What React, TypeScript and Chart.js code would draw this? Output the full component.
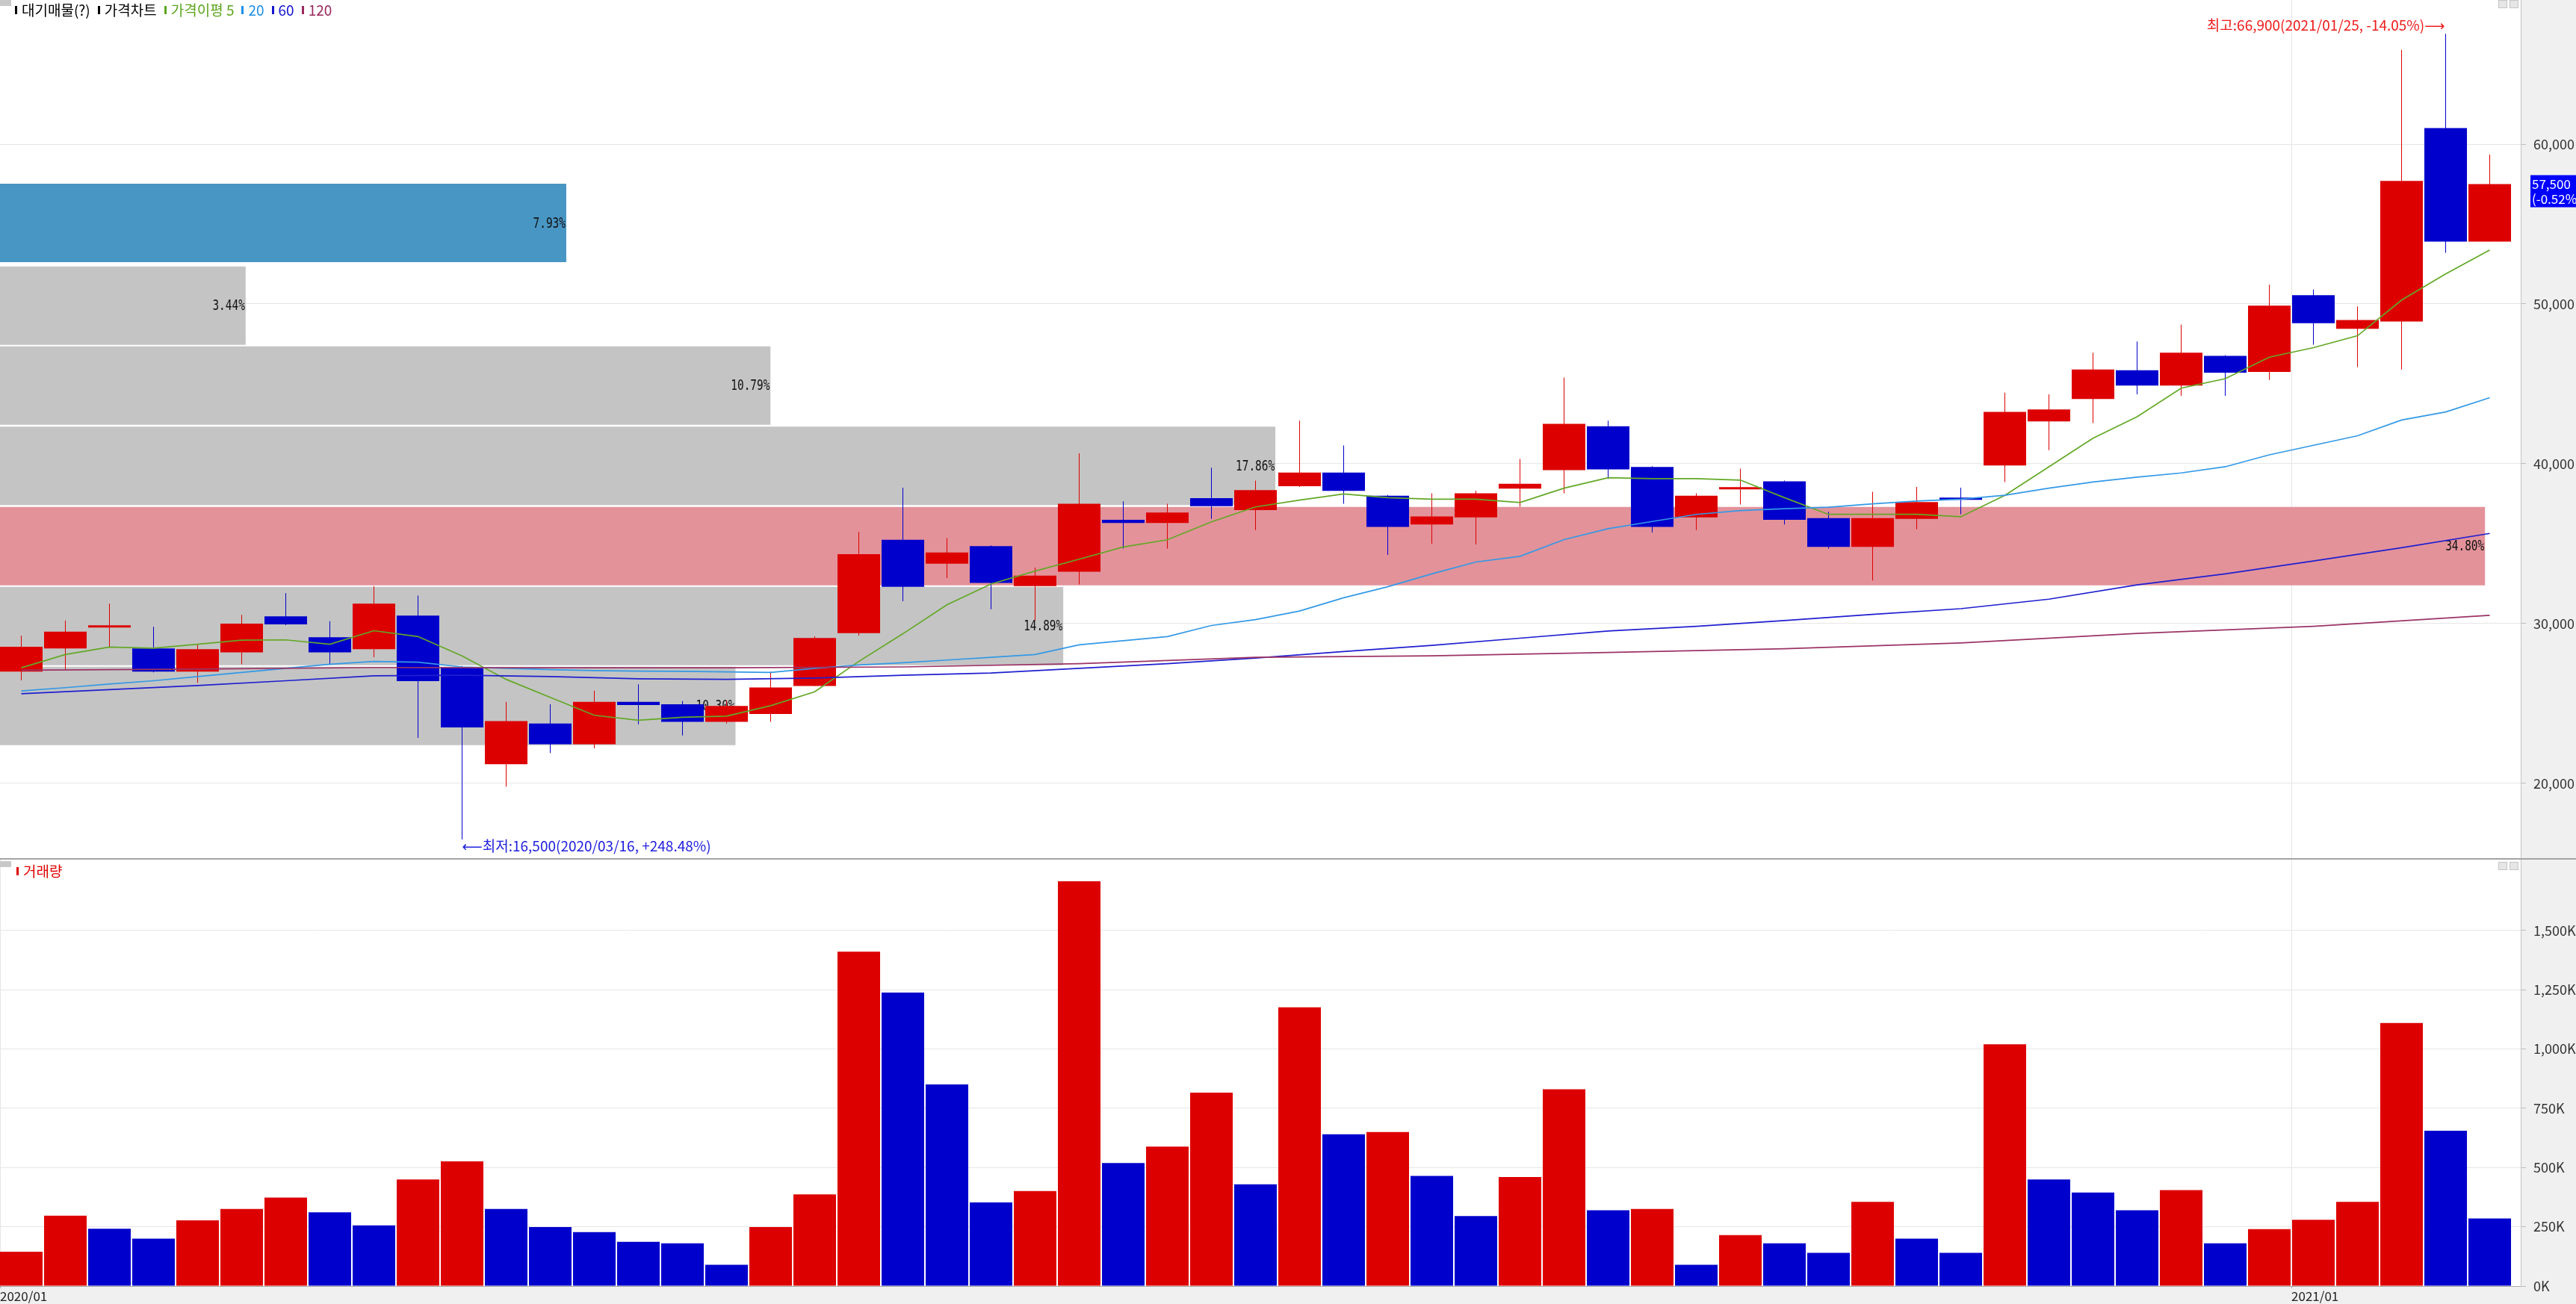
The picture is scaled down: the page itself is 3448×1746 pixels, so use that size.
import React, { useEffect, useRef } from 'react';
import { Chart, registerables } from 'chart.js';

Chart.register(...registerables);

// ---------------- data ----------------
const weeks = [
  '2020/01/06', '2020/01/13', '2020/01/20', '2020/01/27', '2020/02/03', '2020/02/10', '2020/02/17', '2020/02/24',
  '2020/03/02', '2020/03/09', '2020/03/16', '2020/03/23', '2020/03/30', '2020/04/06', '2020/04/13', '2020/04/20',
  '2020/04/27', '2020/05/04', '2020/05/11', '2020/05/18', '2020/05/25', '2020/06/01', '2020/06/08', '2020/06/15',
  '2020/06/22', '2020/06/29', '2020/07/06', '2020/07/13', '2020/07/20', '2020/07/27', '2020/08/03', '2020/08/10',
  '2020/08/17', '2020/08/24', '2020/08/31', '2020/09/07', '2020/09/14', '2020/09/21', '2020/09/28', '2020/10/05',
  '2020/10/12', '2020/10/19', '2020/10/26', '2020/11/02', '2020/11/09', '2020/11/16', '2020/11/23', '2020/11/30',
  '2020/12/07', '2020/12/14', '2020/12/21', '2020/12/28', '2021/01/04', '2021/01/11', '2021/01/18', '2021/01/25',
  '2021/02/01',
];

const opens = [
  27000, 28450, 29750, 28450, 27000, 28200, 30450, 29150, 28400, 30500, 27250, 21200, 23750, 22450, 25100, 24950,
  23850, 24350, 26100, 29400, 35250, 33750, 34850, 32350, 33250, 36500, 36300, 37850, 37100, 38600, 39450, 38000,
  36200, 36650, 38450, 39600, 42350, 39800, 36650, 38400, 38900, 36600, 34800, 36550, 37850, 39900, 42650, 44050,
  45850, 44900, 46750, 45750, 50550, 48450, 48900, 61000, 53900,
];
const highs = [
  29250, 30200, 31250, 29800, 28700, 30550, 31900, 30150, 32350, 31750, 27350, 25100, 24950, 25800, 26200, 25150,
  25200, 27000, 29200, 35750, 38500, 35350, 34900, 33500, 40650, 37650, 37500, 39750, 38950, 42700, 41150, 38050,
  38150, 38300, 40300, 45400, 42700, 39850, 38150, 39700, 38950, 37000, 38250, 38550, 38500, 44450, 44350, 46950,
  47650, 48700, 46800, 51200, 50900, 49850, 65900, 66900, 59350,
];
const lows = [
  26450, 27100, 28500, 26950, 26300, 27450, 29900, 27450, 27900, 22850, 16500, 19800, 21900, 22200, 23700, 23000,
  23750, 23850, 26100, 29250, 31400, 32850, 30900, 30200, 32450, 34700, 34700, 36550, 35850, 38550, 37500, 34300,
  35000, 34950, 37300, 38150, 39050, 35700, 35850, 37450, 36200, 34700, 32700, 35900, 36850, 38850, 40850, 42550,
  44350, 44250, 44250, 45250, 47450, 46050, 45900, 53200, 53900,
];
const closes = [
  28550, 29500, 29800, 27000, 28400, 30000, 29950, 28200, 31250, 26400, 23500, 23900, 22450, 25100, 24900, 23850,
  24850, 26000, 29100, 34350, 32300, 34450, 32550, 33000, 37500, 36300, 36950, 37350, 38350, 39450, 38300, 36050,
  36700, 38150, 38750, 42500, 39650, 36050, 38000, 38500, 36500, 34800, 36600, 37600, 37750, 43250, 43400, 45900,
  44900, 46950, 45700, 49900, 48800, 49000, 57700, 53900, 57500,
];

// weekly volume, thousands of shares
const volumesK = [
  145, 297, 242, 200, 277, 325, 373, 311, 256, 450, 526, 325, 249, 228, 187, 180,
  90, 249, 387, 1411, 1238, 851, 353, 401, 1708, 519, 588, 816, 429, 1176, 640, 650,
  465, 295, 460, 830, 320, 325, 90, 215, 180, 140, 355, 200, 140, 1020, 450, 395,
  320, 405, 180, 240, 280, 355, 1110, 655, 285,
];

const ma5 = [
  27237, 28067, 28534, 28465, 28708, 28966, 28983, 28708, 29554, 29191, 27980, 26511, 25387, 24263, 23952, 24142,
  24211, 24868, 25733, 27635, 29364, 31180, 32476, 33289, 34032, 34793, 35243, 36366, 37300, 37729, 38117, 37878,
  37789, 37789, 37580, 38475, 39130, 39070, 39070, 38981, 37878, 36835, 36835, 36835, 36686, 38027, 39815, 41603,
  42944, 44732, 45328, 46669, 47265, 48010, 50245, 51884, 53374,
];
const ma20 = [
  25785, 25993, 26217, 26424, 26684, 26943, 27202, 27462, 27635, 27583, 27289, 27202, 27116, 27064, 27030, 27012,
  26978, 26943, 27202, 27410, 27548, 27721, 27894, 28067, 28672, 28931, 29191, 29882, 30250, 30785, 31620, 32306,
  33110, 33855, 34213, 35256, 35941, 36388, 36835, 37073, 37193, 37282, 37491, 37670, 37789, 38027, 38475, 38862,
  39160, 39428, 39815, 40560, 41156, 41753, 42736, 43242, 44136,
];
const ma60Idx = [0, 2, 4, 6, 8, 10, 12, 14, 16, 18, 20, 22, 24, 26, 28, 30, 32, 34, 36, 38, 40, 42, 44, 46, 48, 50, 52, 54, 56];
const ma60 = [
  25612, 25871, 26131, 26424, 26735, 26770, 26684, 26545, 26511, 26597, 26770, 26909, 27202, 27497, 27840, 28253,
  28641, 29088, 29535, 29832, 30189, 30577, 30935, 31531, 32425, 33110, 33915, 34749, 35643,
];
const ma120Idx = [0, 4, 8, 12, 16, 20, 24, 28, 32, 36, 40, 44, 48, 52, 56];
const ma120 = [27081, 27150, 27254, 27237, 27237, 27289, 27497, 27895, 27985, 28193, 28432, 28789, 29385, 29832, 30517];

// volume-at-price bands (대기매물)
const bandHigh = [57700, 52350, 47350, 42350, 37300, 32300, 27300];
const bandLow = [52450, 47450, 42450, 37400, 32400, 27400, 22400];
const bandPct = [7.93, 3.44, 10.79, 17.86, 34.8, 14.89, 10.3];

const priceTicks = [20000, 30000, 40000, 50000, 60000];
const volumeTicks = [0, 250000, 500000, 750000, 1000000, 1250000, 1500000];
const dateTickLabels = ['2020/01', '2021/01'];
const lastChangePct = -0.52;

// ---------------- styling ----------------
const RED = '#dd0000';
const BLUE = '#0000cc';
const KR = "'Noto Sans CJK KR', 'DejaVu Sans', sans-serif";
const X_MIN = -0.483;
const X_MAX = 56.703;

const fmt = (v: number) => Math.round(v).toLocaleString('en-US');
const pctStr = (v: number) => (v >= 0 ? '+' : '') + (v * 100).toFixed(2) + '%';

const candleColors = opens.map((o, i) => (closes[i] >= o ? RED : BLUE));
const volColors = volumesK.map((v, i) => (i === 0 || v >= volumesK[i - 1] ? RED : BLUE));
const lastClose = closes[closes.length - 1];
const maxPct = Math.max(...bandPct);
const bandColors = bandPct.map((p, i) =>
  lastClose >= bandLow[i] && lastClose <= bandHigh[i] ? '#4896c4' : p === maxPct ? '#e3929a' : '#c4c4c4'
);
const dateTickIdx = dateTickLabels.map((lab) => Math.max(X_MIN, weeks.findIndex((w) => w.startsWith(lab)) - 0.5));

const fixY = (w: number) => (scale: any) => {
  scale.width = w;
  scale.paddingTop = 0;
  scale.paddingBottom = 0;
};
const fixX = (h: number) => (scale: any) => {
  scale.height = h;
  scale.paddingLeft = 0;
  scale.paddingRight = 0;
};

const bgPlugin = {
  id: 'plotBg',
  beforeDraw(chart: any) {
    const { ctx, chartArea: a } = chart;
    ctx.save();
    ctx.fillStyle = '#ffffff';
    ctx.fillRect(a.left, a.top, a.right - a.left, a.bottom - a.top);
    ctx.restore();
  },
};

const bandLabelPlugin = {
  id: 'bandLabels',
  afterDatasetDraw(chart: any, args: any) {
    const ds = chart.data.datasets[args.index];
    if (ds.label !== 'bands') return;
    const ctx = chart.ctx;
    args.meta.data.forEach((el: any, i: number) => {
      ctx.save();
      ctx.translate(el.x - 1, el.y + 1);
      ctx.scale(0.72, 1);
      ctx.font = "20px 'DejaVu Sans Mono', monospace";
      ctx.fillStyle = '#111111';
      ctx.textAlign = 'right';
      ctx.textBaseline = 'middle';
      ctx.fillText(bandPct[i].toFixed(2) + '%', 0, 0);
      ctx.restore();
    });
  },
};

const annotationPlugin = {
  id: 'annotations',
  afterDraw(chart: any) {
    const { ctx, chartArea: a } = chart;
    const xs = chart.scales.x;
    const ys = chart.scales.y;
    const hi = Math.max(...highs);
    const lo = Math.min(...lows);
    const hiIdx = highs.indexOf(hi);
    const loIdx = lows.indexOf(lo);
    ctx.save();
    ctx.font = '19px ' + KR;
    ctx.textBaseline = 'middle';
    ctx.fillStyle = '#ee1c1c';
    ctx.textAlign = 'right';
    ctx.fillText(
      `최고:${fmt(hi)}(${weeks[hiIdx]}, ${pctStr(lastClose / hi - 1)})⟶`,
      xs.getPixelForValue(hiIdx) - 1,
      ys.getPixelForValue(hi) - 12
    );
    ctx.fillStyle = '#2020dd';
    ctx.textAlign = 'left';
    ctx.fillText(
      `⟵최저:${fmt(lo)}(${weeks[loIdx]}, ${pctStr(lastClose / lo - 1)})`,
      xs.getPixelForValue(loIdx),
      ys.getPixelForValue(lo) + 9
    );
    // current price tag
    const yv = ys.getPixelForValue(lastClose);
    ctx.fillStyle = '#0000ff';
    ctx.fillRect(a.right + 13, yv - 12, 80, 43);
    ctx.fillStyle = '#ffffff';
    ctx.font = '17px ' + KR;
    ctx.fillText(fmt(lastClose), a.right + 15, yv);
    ctx.fillText(`(${lastChangePct.toFixed(2)}%)`, a.right + 15, yv + 20);
    ctx.restore();
  },
};

const tickFont = { family: KR, size: 18 };

function priceConfig(): any {
  return {
    type: 'bar',
    data: {
      datasets: [
        {
          label: 'bands',
          type: 'bar',
          indexAxis: 'y',
          xAxisID: 'xb',
          yAxisID: 'y',
          data: bandPct.map((p, i) => ({ x: p, y: (bandLow[i] + bandHigh[i]) / 2 })),
          backgroundColor: bandColors,
          barThickness: 105,
          grouped: false,
          inflateAmount: 0,
          order: 3,
        },
        {
          label: 'wick',
          type: 'bar',
          xAxisID: 'x',
          yAxisID: 'y',
          data: lows.map((l, i) => ({ x: i, y: [l, highs[i]] })),
          backgroundColor: candleColors,
          barThickness: 1,
          grouped: false,
          inflateAmount: 0,
          order: 2,
        },
        {
          label: 'body',
          type: 'bar',
          xAxisID: 'x',
          yAxisID: 'y',
          data: opens.map((o, i) => ({ x: i, y: [o, closes[i]] })),
          backgroundColor: candleColors,
          barThickness: 57,
          minBarLength: 3,
          grouped: false,
          inflateAmount: 0,
          order: 1,
        },
        {
          label: 'MA120',
          type: 'line',
          xAxisID: 'x',
          yAxisID: 'y',
          data: ma120Idx.map((x, k) => ({ x, y: ma120[k] })),
          borderColor: '#9b3366',
          borderWidth: 1.7,
          pointRadius: 0,
          tension: 0,
          order: 0,
        },
        {
          label: 'MA60',
          type: 'line',
          xAxisID: 'x',
          yAxisID: 'y',
          data: ma60Idx.map((x, k) => ({ x, y: ma60[k] })),
          borderColor: '#1f1fd0',
          borderWidth: 1.7,
          pointRadius: 0,
          tension: 0,
          order: 0,
        },
        {
          label: 'MA20',
          type: 'line',
          xAxisID: 'x',
          yAxisID: 'y',
          data: ma20.map((y, x) => ({ x, y })),
          borderColor: '#3399e6',
          borderWidth: 1.7,
          pointRadius: 0,
          tension: 0,
          order: 0,
        },
        {
          label: 'MA5',
          type: 'line',
          xAxisID: 'x',
          yAxisID: 'y',
          data: ma5.map((y, x) => ({ x, y })),
          borderColor: '#63a826',
          borderWidth: 1.7,
          pointRadius: 0,
          tension: 0,
          order: 0,
        },
      ],
    },
    options: {
      responsive: false,
      animation: false,
      events: [],
      layout: { padding: 0 },
      plugins: { legend: { display: false }, tooltip: { enabled: false } },
      scales: {
        x: {
          type: 'linear',
          axis: 'x',
          position: 'bottom',
          min: X_MIN,
          max: X_MAX,
          offset: false,
          afterBuildTicks: (s: any) => {
            s.ticks = dateTickIdx.slice(1).map((v) => ({ value: v }));
          },
          afterFit: fixX(0),
          grid: { offset: false, color: '#e6e6e6', drawTicks: false },
          border: { display: false },
          ticks: { display: false, autoSkip: false },
        },
        xb: {
          type: 'linear',
          axis: 'x',
          display: false,
          min: 0,
          max: 35.3,
          offset: false,
          grid: { offset: false },
        },
        y: {
          type: 'linear',
          axis: 'y',
          position: 'right',
          min: 15326,
          max: 69019,
          offset: false,
          afterBuildTicks: (s: any) => {
            s.ticks = priceTicks.map((v) => ({ value: v }));
          },
          afterFit: fixY(74),
          grid: { offset: false, color: '#e6e6e6', tickColor: '#bdbdbd', tickLength: 7 },
          border: { color: '#c4c4c4' },
          ticks: { callback: (v: number) => fmt(v), padding: 10, font: tickFont, color: '#333333', autoSkip: false },
        },
      },
    },
    plugins: [bgPlugin, bandLabelPlugin, annotationPlugin],
  };
}

function volumeConfig(): any {
  return {
    type: 'bar',
    data: {
      datasets: [
        {
          label: 'volume',
          data: volumesK.map((v, i) => ({ x: i, y: v * 1000 })),
          backgroundColor: volColors,
          barThickness: 57,
          grouped: false,
          inflateAmount: 0,
        },
      ],
    },
    options: {
      responsive: false,
      animation: false,
      events: [],
      layout: { padding: 0 },
      plugins: { legend: { display: false }, tooltip: { enabled: false } },
      scales: {
        x: {
          type: 'linear',
          position: 'bottom',
          min: X_MIN,
          max: X_MAX,
          offset: false,
          afterBuildTicks: (s: any) => {
            s.ticks = dateTickIdx.map((v) => ({ value: v }));
          },
          afterFit: fixX(24),
          grid: { offset: false, color: '#e6e6e6', tickColor: '#a8a8a8', tickLength: 3 },
          border: { color: '#a8a8a8' },
          ticks: {
            callback: (_v: number, i: number) => dateTickLabels[i],
            align: 'start',
            padding: 0,
            maxRotation: 0,
            autoSkip: false,
            font: { family: KR, size: 17 },
            color: '#222222',
          },
        },
        y: {
          type: 'linear',
          position: 'right',
          min: 0,
          max: 1799000,
          offset: false,
          afterBuildTicks: (s: any) => {
            s.ticks = volumeTicks.map((v) => ({ value: v }));
          },
          afterFit: fixY(74),
          grid: { offset: false, color: '#e6e6e6', tickColor: '#bdbdbd', tickLength: 7 },
          border: { color: '#c4c4c4' },
          ticks: {
            callback: (v: number) => fmt(v / 1000) + 'K',
            padding: 10,
            font: tickFont,
            color: '#333333',
            autoSkip: false,
          },
        },
      },
    },
    plugins: [bgPlugin],
  };
}

const legendItems = [
  { label: '대기매물(?)', color: '#000000' },
  { label: '가격차트', color: '#000000' },
  { label: '가격이평 5', color: '#5ca51c' },
  { label: '20', color: '#1f8fe5' },
  { label: '60', color: '#1515d0' },
  { label: '120', color: '#9a2a5e' },
];

const WinButtons = ({ top }: { top: number }) => (
  <>
    <div style={{ position: 'absolute', left: 3344, top, width: 10, height: 9, border: '1px solid #c4c4c4', background: '#e6e6e6' }} />
    <div style={{ position: 'absolute', left: 3359, top, width: 10, height: 9, border: '1px solid #c4c4c4', background: '#e6e6e6' }} />
  </>
);

export default function App() {
  const priceRef = useRef<HTMLCanvasElement>(null);
  const volRef = useRef<HTMLCanvasElement>(null);

  useEffect(() => {
    document.body.style.margin = '0';
    document.body.style.overflow = 'hidden';
    const pc = new Chart(priceRef.current as HTMLCanvasElement, priceConfig());
    const vc = new Chart(volRef.current as HTMLCanvasElement, volumeConfig());
    return () => {
      pc.destroy();
      vc.destroy();
    };
  }, []);

  return (
    <div style={{ position: 'absolute', left: 0, top: 0, width: 3448, height: 1746, background: '#f0f0f0', overflow: 'hidden' }}>
      <canvas ref={priceRef} width={3448} height={1149} style={{ position: 'absolute', left: 0, top: 0, width: 3448, height: 1149 }} />
      <div style={{ position: 'absolute', left: 0, top: 1149, width: 3448, height: 2, background: '#a4a4a4' }} />
      <canvas ref={volRef} width={3448} height={595} style={{ position: 'absolute', left: 0, top: 1151, width: 3448, height: 595 }} />

      {/* price panel legend */}
      <div style={{ position: 'absolute', left: 0, top: 0, width: 15, height: 8, background: '#c8c8c8' }} />
      <div style={{ position: 'absolute', left: 20, top: 2, height: 22, display: 'flex', alignItems: 'center', gap: 10, fontFamily: KR, fontSize: 19, lineHeight: '22px', whiteSpace: 'nowrap' }}>
        {legendItems.map((it) => (
          <span key={it.label} style={{ display: 'flex', alignItems: 'center', color: it.color }}>
            <span style={{ display: 'inline-block', width: 3, height: 11, background: it.color, marginRight: 6 }} />
            {it.label}
          </span>
        ))}
      </div>
      <WinButtons top={0} />

      {/* volume panel legend */}
      <div style={{ position: 'absolute', left: 0, top: 1153, width: 15, height: 8, background: '#c8c8c8' }} />
      <div style={{ position: 'absolute', left: 22, top: 1155, height: 22, display: 'flex', alignItems: 'center', fontFamily: KR, fontSize: 19, lineHeight: '22px', color: '#e00000', whiteSpace: 'nowrap' }}>
        <span style={{ display: 'inline-block', width: 3, height: 11, background: '#e00000', marginRight: 6 }} />
        거래량
      </div>
      <WinButtons top={1154} />
    </div>
  );
}
